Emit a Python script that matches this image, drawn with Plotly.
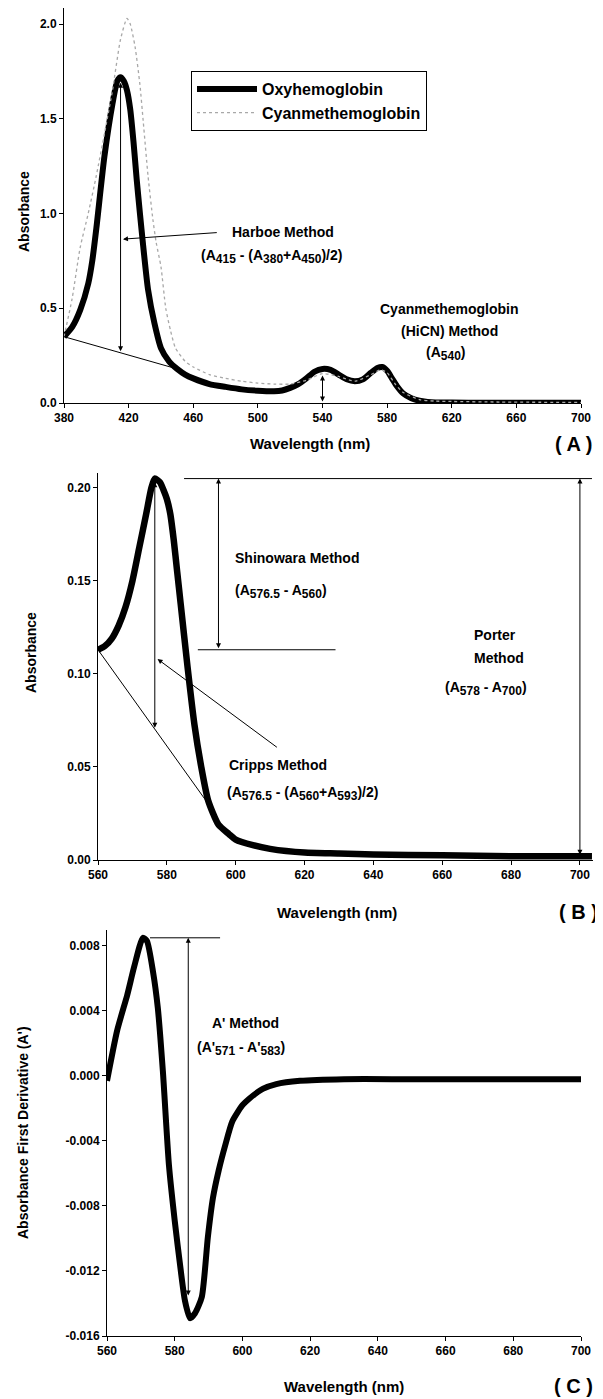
import numpy as np
import plotly.graph_objects as go

# The page places the figure 8 px from the top-left corner (default body margin),
# so the figure is sized so that its right/bottom edges meet the 603x1399 window.
OFF = 8
W, H = 603 - OFF, 1399 - OFF
FONT = "Liberation Sans, Arial, Helvetica, sans-serif"

# ---------------- Data ----------------
# Panel A: full spectra (380-700 nm)
oxy_wl = [380, 385, 390, 395, 397.5, 400, 405, 410, 413, 415, 417, 419, 421, 423, 425, 427,
          429, 432, 436, 440, 445, 450, 455, 460, 470, 480, 490, 500, 510, 515, 520, 525,
          530, 535, 540, 545, 550, 555, 560, 565, 570, 574, 577, 580, 583, 586, 590, 595,
          600, 605, 610, 620, 640, 660, 680, 700]
oxy_abs = [0.35, 0.40, 0.49, 0.63, 0.75, 0.92, 1.30, 1.58, 1.70, 1.72, 1.70, 1.65, 1.55, 1.38, 1.18, 1.00,
           0.83, 0.60, 0.42, 0.29, 0.22, 0.18, 0.15, 0.13, 0.10, 0.085, 0.072, 0.065, 0.062, 0.066, 0.08, 0.10,
           0.13, 0.165, 0.18, 0.175, 0.15, 0.125, 0.115, 0.125, 0.16, 0.185, 0.19, 0.17, 0.13, 0.09, 0.05, 0.025,
           0.012, 0.006, 0.003, 0.002, 0.001, 0.001, 0.001, 0.001]

cyan_wl = [380, 385, 390, 395, 400, 405, 410, 415, 419, 421, 424, 427, 429, 432, 435, 437, 440,
           443, 446, 449, 455, 460, 470, 480, 490, 500, 510, 520, 530, 540, 550, 560, 570,
           576, 580, 585, 590, 600, 610, 620, 650, 700]
cyan_abs = [0.35, 0.55, 0.82, 1.00, 1.20, 1.42, 1.65, 1.92, 2.03, 2.00, 1.88, 1.68, 1.49, 1.20, 0.97, 0.85, 0.72,
            0.50, 0.38, 0.29, 0.22, 0.19, 0.15, 0.13, 0.115, 0.105, 0.10, 0.10, 0.12, 0.155, 0.14, 0.115, 0.15,
            0.175, 0.16, 0.10, 0.055, 0.018, 0.010, 0.008, 0.005, 0.003]

# Panel B: oxyhemoglobin 560-700 nm
b_wl = [560, 562, 564, 566, 568, 570, 572, 574, 575.5, 576.5, 578, 579, 580, 581, 582, 583, 584, 586, 588,
        590, 592, 595, 598, 600, 605, 610, 620, 630, 640, 660, 680, 700, 703.5]
b_abs = [0.113, 0.115, 0.119, 0.126, 0.136, 0.150, 0.168, 0.186, 0.200, 0.205, 0.203, 0.199, 0.194, 0.186,
         0.172, 0.155, 0.138, 0.104, 0.073, 0.050, 0.032, 0.019, 0.014, 0.011, 0.008, 0.006, 0.004, 0.0035,
         0.003, 0.0025, 0.002, 0.002, 0.002]

# Panel C: first derivative
c_wl = [560, 563, 566, 568, 570.6, 571.8, 573.6, 575, 576.5, 578.3, 580, 581.8, 583, 584.5, 586,
        588, 589.8, 591.3, 593, 595, 597, 600, 602, 606, 610, 617, 630, 650, 700]
c_der = [-0.0003, 0.0028, 0.0050, 0.0067, 0.0085, 0.0083, 0.0064, 0.0042, 0.0003, -0.0055, -0.0089,
         -0.0120, -0.0138, -0.0149, -0.0146, -0.0136, -0.0099, -0.0075, -0.0058, -0.0042, -0.0028,
         -0.0018, -0.0014, -0.0008, -0.0005, -0.0003, -0.0002, -0.0002, -0.0002]

# Tick labels
a_xticks = [380, 420, 460, 500, 540, 580, 620, 660, 700]
a_yticks = [0.0, 0.5, 1.0, 1.5, 2.0]
a_ytext = ["0.0", "0.5", "1.0", "1.5", "2.0"]
bc_xticks = [560, 580, 600, 620, 640, 660, 680, 700]
b_yticks = [0.00, 0.05, 0.10, 0.15, 0.20]
b_ytext = ["0.00", "0.05", "0.10", "0.15", "0.20"]
c_yticks = [-0.016, -0.012, -0.008, -0.004, 0.0, 0.004, 0.008]
c_ytext = ["-0.016", "-0.012", "-0.008", "-0.004", "0.000", "0.004", "0.008"]


def at(wl, vals, x):
    return float(np.interp(x, wl, vals))


def px(x):
    return min(max((x - OFF) / W, 0.0), 1.0)


def py(y):
    return min(max(1 - (y - OFF) / H, 0.0), 1.0)


def sub(s):
    return "<sub><span style='font-size:12px'>" + s + "</span></sub>"


fig = go.Figure()

fig.add_trace(go.Scatter(x=oxy_wl, y=oxy_abs, mode="lines", name="Oxyhemoglobin",
                         line=dict(color="black", width=6, shape="spline", smoothing=0.6),
                         xaxis="x", yaxis="y"))
fig.add_trace(go.Scatter(x=cyan_wl, y=cyan_abs, mode="lines", name="Cyanmethemoglobin",
                         line=dict(color="#a8a8a8", width=1.3, dash="dot", shape="spline", smoothing=0.6),
                         xaxis="x", yaxis="y"))
fig.add_trace(go.Scatter(x=b_wl, y=b_abs, mode="lines", showlegend=False,
                         line=dict(color="black", width=6.5, shape="spline", smoothing=0.6),
                         xaxis="x2", yaxis="y2"))
fig.add_trace(go.Scatter(x=c_wl, y=c_der, mode="lines", showlegend=False,
                         line=dict(color="black", width=6, shape="spline", smoothing=0.6),
                         xaxis="x3", yaxis="y3"))

axis_common = dict(showline=True, linecolor="black", linewidth=1, ticks="outside", ticklen=4,
                   tickwidth=1, tickcolor="black", showgrid=False, zeroline=False, automargin=False,
                   tickfont=dict(size=12, family=FONT, color="black", weight="bold"))

fig.update_layout(
    template="none",
    width=W, height=H, margin=dict(l=0, r=0, t=0, b=0, pad=0, autoexpand=False),
    paper_bgcolor="white", plot_bgcolor="white",
    font=dict(family=FONT, color="black", weight="bold"),
    xaxis=dict(domain=[px(64), px(581)], range=[380, 700], tickvals=a_xticks, anchor="y", **axis_common),
    yaxis=dict(domain=[py(403), py(8)], range=[0, 2.085], tickvals=a_yticks, ticktext=a_ytext,
               anchor="x", **axis_common),
    xaxis2=dict(domain=[px(98), px(593)], range=[560, 703.8], tickvals=bc_xticks, anchor="y2", **axis_common),
    yaxis2=dict(domain=[py(860), py(473)], range=[0, 0.208], tickvals=b_yticks, ticktext=b_ytext,
                anchor="x2", **axis_common),
    xaxis3=dict(domain=[px(107), px(581)], range=[560, 700], tickvals=bc_xticks, anchor="y3", **axis_common),
    yaxis3=dict(domain=[py(1336), py(930)], range=[-0.016, 0.00898], tickvals=c_yticks, ticktext=c_ytext,
                anchor="x3", **axis_common),
    legend=dict(x=px(191), y=py(71), xanchor="left", yanchor="top", bordercolor="black", borderwidth=1,
                bgcolor="white", font=dict(size=16, family=FONT, weight="bold"), itemwidth=60,
                tracegroupgap=0),
)

ann = []
shapes = []


def text(s, x, y, size=14, xanchor="left", angle=0):
    ann.append(dict(text=s, x=px(x), y=py(y), xref="paper", yref="paper", showarrow=False,
                    xanchor=xanchor, yanchor="middle", textangle=angle,
                    font=dict(size=size, family=FONT, color="black", weight="bold")))


def arrow(xr, yr, x, y, ax, ay, double=False):
    d = dict(text="", x=x, y=y, ax=ax, ay=ay, xref=xr, yref=yr, axref=xr, ayref=yr,
             showarrow=True, arrowhead=2, arrowsize=1, arrowwidth=1, arrowcolor="black",
             standoff=0, startstandoff=0)
    if double:
        d.update(arrowside="end+start", startarrowhead=2, startarrowsize=1)
    ann.append(d)


def seg(xr, yr, x0, y0, x1, y1):
    shapes.append(dict(type="line", xref=xr, yref=yr, x0=x0, y0=y0, x1=x1, y1=y1,
                       line=dict(color="black", width=1), layer="above"))


# ---- Panel A annotations ----
a380, a450, a415 = at(oxy_wl, oxy_abs, 380), at(oxy_wl, oxy_abs, 450), at(oxy_wl, oxy_abs, 415)
base415 = a380 + (a450 - a380) * (415 - 380) / (450 - 380)
seg("x", "y", 380, a380, 450, a450)
arrow("x", "y", 415, a415 - 0.03, 415, base415, double=True)
arrow("x", "y", 416.5, 0.865, 475.5, 0.90)
arrow("x", "y", 540, at(oxy_wl, oxy_abs, 540) - 0.035, 540, 0.0, double=True)
text("Harboe Method", 230, 232)
text("(A" + sub("415") + " - (A" + sub("380") + "+A" + sub("450") + ")/2)", 199, 256)
text("Cyanmethemoglobin", 449, 309, xanchor="center")
text("(HiCN) Method", 449, 331, xanchor="center")
text("(A" + sub("540") + ")", 445, 354, xanchor="center")
text("Wavelength (nm)", 310, 444, size=15, xanchor="center")
text("( A )", 573, 444, size=20, xanchor="center")
text("Absorbance", 24, 212, size=14, xanchor="center", angle=-90)

# ---- Panel B annotations ----
b5765, b560, b593 = at(b_wl, b_abs, 576.5), at(b_wl, b_abs, 560), at(b_wl, b_abs, 593)
b700 = at(b_wl, b_abs, 700)
seg("x2", "y2", 585, b5765, 703.5, b5765)
arrow("x2", "y2", 595, b5765, 595, b560, double=True)
seg("x2", "y2", 589, b560, 629, b560)
arrow("x2", "y2", 700, b5765, 700, b700, double=True)
base5765 = b560 + (b593 - b560) * (576.5 - 560) / (593 - 560)
seg("x2", "y2", 560, b560, 593, b593)
arrow("x2", "y2", 576.5, b5765 - 0.002, 576.5, base5765, double=True)
arrow("x2", "y2", 577.3, 0.108, 612.4, 0.060)
text("Shinowara Method", 233, 558)
text("(A" + sub("576.5") + " - A" + sub("560") + ")", 233, 591)
text("Porter", 472, 635)
text("Method", 472, 658)
text("(A" + sub("578") + " - A" + sub("700") + ")", 443, 688)
text("Cripps Method", 227, 765)
text("(A" + sub("576.5") + " - (A" + sub("560") + "+A" + sub("593") + ")/2)", 225, 793)
text("Wavelength (nm)", 337, 912, size=15, xanchor="center")
text("( B )", 578, 912, size=20, xanchor="center")
text("Absorbance", 31, 653, size=14, xanchor="center", angle=-90)

# ---- Panel C annotations ----
cmax, cmin = max(c_der), min(c_der)
seg("x3", "y3", 572.7, cmax, 593.4, cmax)
arrow("x3", "y3", 584, cmax, 584, cmin + 0.0013, double=True)
text("A' Method", 210, 1023)
text("(A'" + sub("571") + " - A'" + sub("583") + ")", 195, 1048)
text("Wavelength (nm)", 344, 1386, size=15, xanchor="center")
text("( C )", 552, 1386, size=20, xanchor="left")
text("Absorbance First Derivative (A')", 23, 1133, size=14, xanchor="center", angle=-90)

fig.update_layout(annotations=ann, shapes=shapes)
fig.write_html("out.html")
